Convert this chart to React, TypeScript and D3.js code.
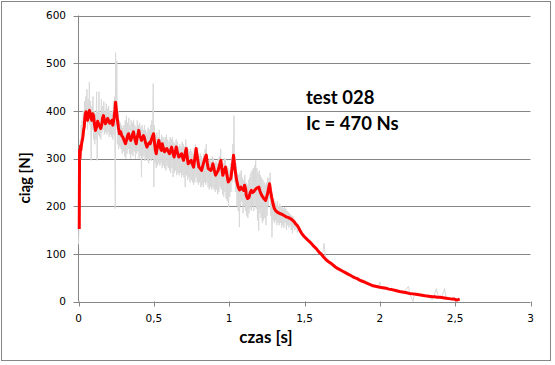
import React from "react";
import * as d3 from "d3";

const xTickValues = [0, 0.5, 1, 1.5, 2, 2.5, 3];
const xTickLabels = ["0", "0,5", "1", "1,5", "2", "2,5", "3"];
const yTickValues = [0, 100, 200, 300, 400, 500, 600];
const yTickLabels = ["0", "100", "200", "300", "400", "500", "600"];
const annotationLines = ["test 028", "Ic = 470 Ns"];
const xTitle = "czas [s]";
const yTitle = "ciąg [N]";

// smoothed thrust [time s, force N]
const redSeries: [number, number][] = [
  [0.005,152],[0.007,318],[0.010,300],[0.013,326],[0.016,318],[0.020,330],[0.025,338],[0.029,345],[0.034,360],[0.038,366],
  [0.042,385],[0.046,394],[0.050,398],[0.055,385],[0.060,380],[0.066,392],[0.073,401],[0.080,388],[0.088,380],[0.094,394],
  [0.100,390],[0.106,372],[0.113,359],[0.120,366],[0.127,378],[0.133,373],[0.140,368],[0.148,363],[0.155,372],[0.160,385],
  [0.166,390],[0.172,380],[0.179,373],[0.186,378],[0.193,384],[0.200,380],[0.207,374],[0.215,376],[0.222,380],[0.228,370],
  [0.236,385],[0.242,402],[0.246,418],[0.252,400],[0.259,380],[0.265,365],[0.272,352],[0.280,356],[0.287,348],[0.294,345],
  [0.303,338],[0.312,331],[0.320,340],[0.326,348],[0.332,352],[0.340,342],[0.347,338],[0.355,346],[0.360,352],[0.365,356],
  [0.372,344],[0.378,336],[0.383,331],[0.390,345],[0.396,352],[0.400,359],[0.406,348],[0.412,344],[0.418,338],[0.425,344],
  [0.431,348],[0.436,345],[0.445,333],[0.454,324],[0.462,330],[0.470,333],[0.476,331],[0.484,340],[0.491,346],[0.498,352],
  [0.504,335],[0.510,318],[0.516,310],[0.522,322],[0.528,330],[0.533,338],[0.540,326],[0.546,320],[0.551,317],[0.556,331],
  [0.563,322],[0.571,314],[0.578,318],[0.586,321],[0.595,315],[0.604,310],[0.611,317],[0.618,324],[0.626,312],[0.635,303],
  [0.642,314],[0.649,324],[0.657,312],[0.666,303],[0.675,306],[0.684,310],[0.690,303],[0.697,296],[0.706,308],[0.715,321],
  [0.721,303],[0.728,289],[0.738,293],[0.748,296],[0.756,288],[0.764,282],[0.772,300],[0.781,321],[0.790,300],[0.799,282],
  [0.808,279],[0.817,275],[0.826,286],[0.835,296],[0.841,302],[0.848,307],[0.854,292],[0.861,279],[0.870,277],[0.879,275],
  [0.886,282],[0.892,289],[0.901,276],[0.910,265],[0.918,270],[0.927,275],[0.936,286],[0.945,296],[0.951,280],[0.958,265],
  [0.967,274],[0.976,282],[0.985,266],[0.994,251],[1.002,255],[1.011,258],[1.020,280],[1.029,307],[1.036,285],[1.043,268],
  [1.051,252],[1.060,240],[1.069,234],[1.078,240],[1.086,236],[1.096,233],[1.102,244],[1.109,236],[1.114,222],[1.122,216],
  [1.131,218],[1.139,228],[1.147,233],[1.155,229],[1.162,230],[1.171,234],[1.180,237],[1.190,239],[1.197,240],[1.204,232],
  [1.211,226],[1.218,222],[1.224,219],[1.233,215],[1.242,212],[1.249,220],[1.255,226],[1.262,238],[1.268,247],[1.275,232],
  [1.282,219],[1.291,205],[1.300,195],[1.308,191],[1.317,188],[1.328,186],[1.339,184],[1.350,183],[1.361,181],[1.372,179],
  [1.383,177],[1.394,176],[1.406,174],[1.415,172],[1.423,170],[1.432,167],[1.441,163],[1.450,160],[1.459,156],[1.470,149],
  [1.481,143],[1.496,137],[1.512,132],[1.528,127],[1.545,122],[1.561,116],[1.578,111],[1.595,104],[1.612,99],[1.628,93],
  [1.645,87],[1.662,83],[1.680,79],[1.695,75],[1.710,71],[1.728,68],[1.745,65],[1.762,62],[1.780,59],[1.798,56],
  [1.815,53],[1.832,50],[1.850,48],[1.865,45],[1.880,43],[1.895,41],[1.910,39],[1.925,37],[1.940,35],[1.955,33],
  [1.970,32],[1.985,31],[2.000,30],[2.020,29],[2.040,28],[2.060,26],[2.080,25],[2.105,23],[2.130,21],[2.150,20],
  [2.170,19],[2.195,17],[2.220,16],[2.240,15],[2.260,14],[2.280,13],[2.300,12],[2.325,11],[2.350,10],[2.365,10],
  [2.380,9],[2.400,9],[2.420,8],[2.440,7],[2.460,6],[2.480,5],[2.495,5],[2.510,3],[2.520,4],[2.530,5]
];

// raw thrust [time s, force N]
const graySeries: [number, number][] = [
  [0.000,120],[0.003,160],[0.006,300],[0.009,250],[0.012,340],[0.015,300],[0.018,370],[0.021,330],[0.024,380],[0.028,340],
  [0.032,400],[0.036,350],[0.040,420],[0.044,370],[0.048,430],[0.052,380],[0.056,445],[0.060,360],[0.064,425],[0.068,375],
  [0.072,460],[0.076,370],[0.080,420],[0.084,296],[0.088,410],[0.092,360],[0.096,430],[0.100,340],[0.104,400],[0.108,330],
  [0.112,395],[0.116,340],[0.120,440],[0.124,296],[0.128,400],[0.132,350],[0.136,440],[0.140,345],[0.144,395],[0.148,340],
  [0.152,425],[0.156,355],[0.160,410],[0.164,360],[0.168,420],[0.172,350],[0.176,400],[0.180,355],[0.184,415],[0.188,350],
  [0.192,405],[0.196,355],[0.200,410],[0.204,345],[0.208,400],[0.212,350],[0.216,395],[0.220,345],[0.224,400],[0.228,340],
  [0.232,420],[0.236,350],[0.240,430],[0.244,195],[0.246,522],[0.250,370],[0.254,505],[0.258,330],[0.262,400],[0.266,320],
  [0.270,380],[0.274,325],[0.278,375],[0.282,320],[0.286,370],[0.290,310],[0.294,365],[0.298,315],[0.302,370],[0.306,305],
  [0.310,380],[0.314,300],[0.318,390],[0.322,310],[0.326,375],[0.330,320],[0.334,385],[0.338,310],[0.342,370],[0.346,300],
  [0.350,380],[0.354,310],[0.358,375],[0.362,305],[0.366,380],[0.370,315],[0.374,370],[0.378,300],[0.382,365],[0.386,310],
  [0.390,380],[0.394,315],[0.398,370],[0.402,300],[0.406,375],[0.410,305],[0.414,365],[0.418,261],[0.422,370],[0.426,300],
  [0.430,360],[0.434,305],[0.438,370],[0.442,295],[0.446,360],[0.450,300],[0.454,355],[0.458,295],[0.462,365],[0.466,290],
  [0.470,360],[0.474,300],[0.478,370],[0.482,295],[0.486,380],[0.490,300],[0.494,400],[0.496,457],[0.500,240],[0.504,370],
  [0.508,290],[0.512,350],[0.516,280],[0.520,355],[0.524,285],[0.528,345],[0.532,290],[0.536,360],[0.540,285],[0.544,340],
  [0.548,290],[0.552,350],[0.556,280],[0.560,345],[0.564,285],[0.568,340],[0.572,280],[0.576,345],[0.580,275],[0.584,350],
  [0.588,285],[0.592,340],[0.596,280],[0.600,335],[0.604,275],[0.608,345],[0.612,270],[0.616,340],[0.620,280],[0.624,345],
  [0.628,261],[0.632,335],[0.636,270],[0.640,330],[0.644,275],[0.648,340],[0.652,265],[0.656,335],[0.660,270],[0.664,325],
  [0.668,265],[0.672,330],[0.676,270],[0.680,325],[0.684,260],[0.688,335],[0.692,265],[0.696,330],[0.700,260],[0.704,325],
  [0.708,240],[0.712,340],[0.716,265],[0.720,325],[0.724,255],[0.728,320],[0.732,260],[0.736,315],[0.740,250],[0.744,320],
  [0.748,255],[0.752,315],[0.756,250],[0.760,310],[0.764,245],[0.768,320],[0.772,250],[0.776,330],[0.780,260],[0.784,315],
  [0.788,250],[0.792,310],[0.796,245],[0.800,305],[0.804,250],[0.808,310],[0.812,240],[0.816,305],[0.820,245],[0.824,300],
  [0.828,240],[0.832,310],[0.836,250],[0.840,320],[0.844,245],[0.848,330],[0.852,250],[0.856,300],[0.860,240],[0.864,295],
  [0.868,235],[0.872,300],[0.876,240],[0.880,295],[0.884,235],[0.888,305],[0.892,240],[0.896,300],[0.900,235],[0.904,290],
  [0.908,230],[0.912,295],[0.916,235],[0.920,290],[0.924,225],[0.928,300],[0.932,230],[0.936,305],[0.940,240],[0.944,320],
  [0.948,235],[0.952,290],[0.956,225],[0.960,290],[0.964,220],[0.968,300],[0.972,230],[0.976,300],[0.980,215],[0.984,285],
  [0.988,210],[0.992,280],[0.996,198],[1.000,275],[1.004,220],[1.008,290],[1.012,230],[1.016,300],[1.020,250],[1.024,330],
  [1.028,280],[1.032,390],[1.036,250],[1.040,300],[1.044,230],[1.048,290],[1.052,200],[1.056,270],[1.060,190],[1.064,265],
  [1.068,156],[1.072,270],[1.076,200],[1.080,275],[1.084,210],[1.088,260],[1.092,185],[1.096,255],[1.100,200],[1.104,265],
  [1.108,190],[1.112,250],[1.116,180],[1.120,245],[1.124,175],[1.128,255],[1.132,185],[1.136,260],[1.140,195],[1.144,270],
  [1.148,190],[1.152,275],[1.156,200],[1.160,280],[1.164,190],[1.168,285],[1.172,200],[1.176,296],[1.180,195],[1.184,280],
  [1.188,170],[1.192,270],[1.196,149],[1.200,275],[1.204,185],[1.208,265],[1.212,175],[1.216,260],[1.220,165],[1.224,255],
  [1.228,170],[1.232,250],[1.236,175],[1.240,245],[1.244,160],[1.248,250],[1.252,180],[1.256,260],[1.260,200],[1.264,258],
  [1.268,215],[1.272,270],[1.276,180],[1.280,230],[1.284,135],[1.288,225],[1.292,170],[1.296,215],[1.300,165],[1.304,210],
  [1.308,170],[1.312,205],[1.316,160],[1.320,210],[1.324,165],[1.328,200],[1.332,160],[1.336,205],[1.340,165],[1.344,200],
  [1.348,155],[1.352,198],[1.356,160],[1.360,195],[1.364,155],[1.368,198],[1.372,165],[1.376,195],[1.380,150],[1.384,190],
  [1.388,160],[1.392,188],[1.396,155],[1.400,185],[1.404,160],[1.408,182],[1.412,150],[1.416,180],[1.420,143],[1.424,178],
  [1.428,155],[1.432,172],[1.436,150],[1.440,168],[1.444,155],[1.448,162],[1.452,145],[1.460,155],[1.468,145],[1.476,148],
  [1.484,138],[1.492,142],[1.500,135],[1.520,128],[1.540,125],[1.560,116],[1.580,112],[1.600,104],[1.620,100],[1.630,122],
  [1.640,90],[1.660,86],[1.680,80],[1.700,76],[1.720,70],[1.740,67],[1.760,62],[1.780,59],[1.800,55],[1.820,52],
  [1.840,49],[1.860,46],[1.880,43],[1.900,45],[1.910,36],[1.930,37],[1.950,34],[1.970,33],[1.990,31],[2.000,41],
  [2.010,28],[2.040,28],[2.070,25],[2.100,23],[2.130,22],[2.160,19],[2.190,32],[2.200,15],[2.220,0],[2.230,17],
  [2.260,13],[2.290,12],[2.320,10],[2.350,4],[2.360,12],[2.375,27],[2.390,8],[2.410,9],[2.430,27],[2.440,6],
  [2.470,6],[2.500,4],[2.520,3]
];

const W = 555;
const H = 365;
const plot = { left: 78.5, right: 530.5, top: 15.5, bottom: 301.5 };
const gridColor = "#868686";
const textFont = "'DejaVu Sans', Verdana, sans-serif";
const titleFont = "Lato, 'Open Sans', sans-serif";

export default function App() {
  const x = d3.scaleLinear().domain([0, 3]).range([plot.left, plot.right]);
  const y = d3.scaleLinear().domain([0, 600]).range([plot.bottom, plot.top]);
  const line = d3
    .line<[number, number]>()
    .x((d) => x(d[0]))
    .y((d) => y(d[1]));

  return (
    <svg
      width={W}
      height={H}
      style={{ position: "absolute", left: 0, top: 0, background: "#fff" }}
    >
      <rect x={1.5} y={1.5} width={549} height={359} fill="#fff" stroke={gridColor} strokeWidth={1} />
      {yTickValues.map((v) => (
        <line
          key={"g" + v}
          x1={plot.left - 5}
          x2={plot.right}
          y1={Math.round(y(v)) + 0.5}
          y2={Math.round(y(v)) + 0.5}
          stroke={gridColor}
          strokeWidth={1}
        />
      ))}
      <line x1={plot.left} x2={plot.left} y1={plot.top} y2={plot.bottom} stroke={gridColor} />
      {xTickValues.map((v) => (
        <line
          key={"xt" + v}
          x1={Math.round(x(v)) + 0.5}
          x2={Math.round(x(v)) + 0.5}
          y1={plot.bottom}
          y2={plot.bottom + 5}
          stroke={gridColor}
        />
      ))}
      {yTickValues.map((v, i) => (
        <text
          key={"yl" + v}
          x={66}
          y={y(v)}
          dy="0.35em"
          textAnchor="end"
          fontFamily={textFont}
          fontSize={10.5}
          fill="#000"
        >
          {yTickLabels[i]}
        </text>
      ))}
      {xTickValues.map((v, i) => (
        <text
          key={"xl" + v}
          x={x(v)}
          y={322}
          textAnchor="middle"
          fontFamily={textFont}
          fontSize={10.5}
          fill="#000"
        >
          {xTickLabels[i]}
        </text>
      ))}
      <path d={line(graySeries) || ""} fill="none" stroke="#d9d9d9" strokeWidth={1} />
      <path
        d={line(redSeries) || ""}
        fill="none"
        stroke="#ff0000"
        strokeWidth={3}
        strokeLinejoin="round"
      />
      <text
        x={266}
        y={343}
        textAnchor="middle"
        fontFamily={titleFont}
        fontWeight="bold"
        fontSize={17}
        fill="#000"
      >
        {xTitle}
      </text>
      <text
        transform="translate(30,178) rotate(-90)"
        textAnchor="middle"
        fontFamily={titleFont}
        fontWeight="bold"
        fontSize={15}
        fill="#000"
      >
        {yTitle}
      </text>
      {annotationLines.map((t, i) => (
        <text
          key={t}
          x={306}
          y={103.5 + i * 26}
          fontFamily={titleFont}
          fontWeight="bold"
          fontSize={18.5}
          fill="#000"
        >
          {t}
        </text>
      ))}
    </svg>
  );
}
